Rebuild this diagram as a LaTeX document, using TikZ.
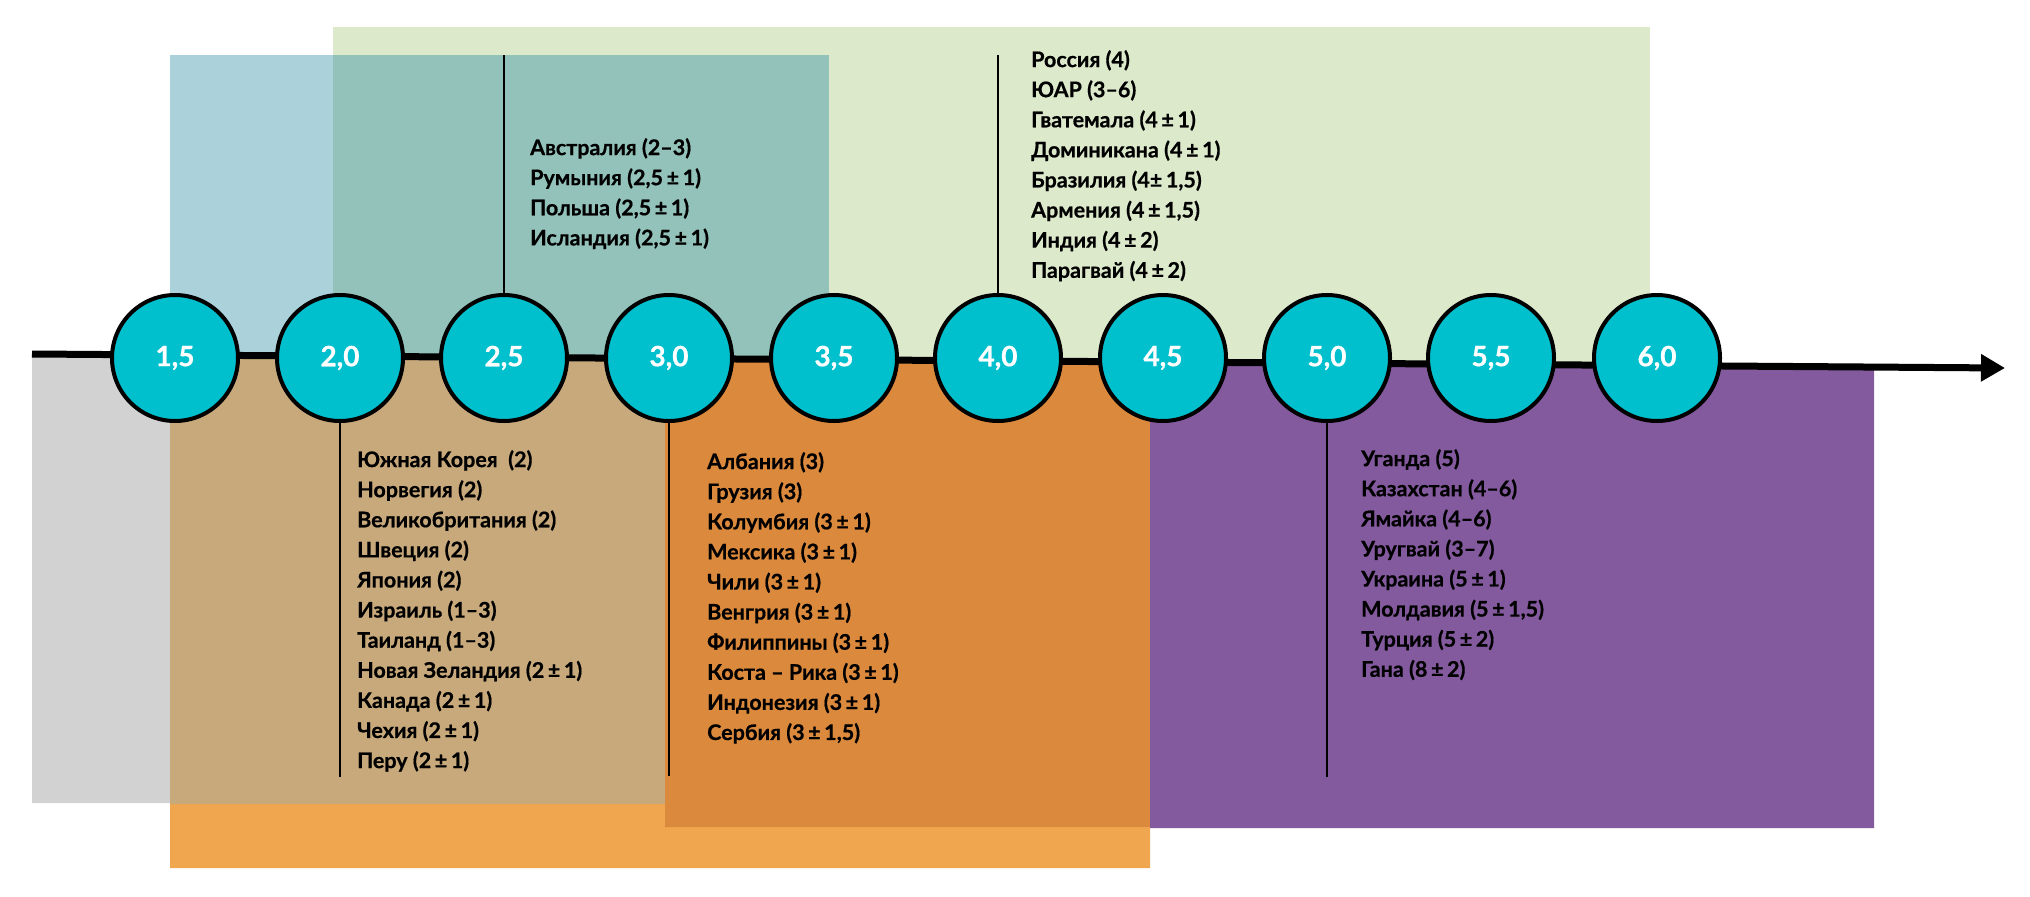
\documentclass[tikz,border=0pt]{standalone}
\usepackage{fontspec}
\setmainfont{Lato}[BoldFeatures={FakeBold=0.6}]
\usetikzlibrary{arrows.meta}
\definecolor{cgreen}{HTML}{DDE9CB}
\definecolor{cblue}{HTML}{ABD1DA}
\definecolor{cteal}{HTML}{92C2B9}
\definecolor{cgray}{HTML}{D2D2D2}
\definecolor{ctan}{HTML}{C8A97B}
\definecolor{clorange}{HTML}{F0A64E}
\definecolor{cdorange}{HTML}{DB893C}
\definecolor{cpurple}{HTML}{845A9E}
\definecolor{ccyan}{HTML}{00C0CE}
\tikzset{
  tick/.style={circle, draw=black, line width=4pt, fill=ccyan, minimum size=126pt, inner sep=0pt,
    text=white, font=\fontsize{28}{30}\selectfont\bfseries},
  stem/.style={draw=black, line width=1.5pt},
  axisline/.style={draw=black, line width=7pt, -{Triangle[length=24pt,width=26pt]}},
  list/.style={anchor=north west, inner sep=0pt, align=left, text=black,
    font=\fontsize{21.5}{30.1}\selectfont\bfseries}
}
\begin{document}
\begin{tikzpicture}[x=1pt,y=-1pt]
\useasboundingbox (0,0) rectangle (2030,897);
% bands above the axis
\fill[cgreen] (333,27) rectangle (1650,370);
\fill[cblue] (170,55) rectangle (333,370);
\fill[cteal] (333,55) rectangle (829,370);
% bands below the axis (tops follow the axis)
\fill[clorange] (170,355) -- (1150,362.2) -- (1150,868) -- (170,868) -- cycle;
\fill[cgray] (32,354) -- (170,355) -- (170,803) -- (32,803) -- cycle;
\fill[ctan] (170,355) -- (666,358.5) -- (666,804) -- (170,804) -- cycle;
\fill[cdorange] (665,358.5) -- (1150,362.2) -- (1150,827) -- (665,827) -- cycle;
\fill[cpurple] (1150,362.2) -- (1874,367.2) -- (1874,828) -- (1150,828) -- cycle;
% axis
\coordinate (ax0) at (32,354);
\coordinate (ax1) at (2005,368);
\draw[axisline] (ax0) -- (ax1);
% ticks
\node[tick] (c15) at (175,358) {1,5};
\node[tick] (c20) at (340,358) {2,0};
\node[tick] (c25) at (504,358) {2,5};
\node[tick] (c30) at (669,358) {3,0};
\node[tick] (c35) at (834,358) {3,5};
\node[tick] (c40) at (998,358) {4,0};
\node[tick] (c45) at (1163,358) {4,5};
\node[tick] (c50) at (1327,358) {5,0};
\node[tick] (c55) at (1491,358) {5,5};
\node[tick] (c60) at (1657,358) {6,0};
% stems
\coordinate (t25) at (504,55);
\coordinate (t40) at (998,55);
\coordinate (b20) at (340,777);
\coordinate (b30) at (669,776);
\coordinate (b50) at (1327,777);
\draw[stem] (c25.north) -- (t25);
\draw[stem] (c40.north) -- (t40);
\draw[stem] (c20.south) -- (b20);
\draw[stem] (c30.south) -- (b30);
\draw[stem] (c50.south) -- (b50);
% lists
\node[list] (lau) at (530,138) {Австралия (2–3)\\Румыния (2,5\,±\,1)\\Польша (2,5\,±\,1)\\Исландия (2,5\,±\,1)};
\node[list] (lru) at (1031,50) {Россия (4)\\ЮАР (3–6)\\Гватемала (4\,±\,1)\\Доминикана (4\,±\,1)\\Бразилия (4±\,1,5)\\Армения (4\,±\,1,5)\\Индия (4\,±\,2)\\Парагвай (4\,±\,2)};
\node[list] (lkr) at (357,450) {Южная Корея\ \ (2)\\Норвегия (2)\\Великобритания (2)\\Швеция (2)\\Япония (2)\\Израиль (1–3)\\Таиланд (1–3)\\Новая Зеландия (2\,±\,1)\\Канада (2\,±\,1)\\Чехия (2\,±\,1)\\Перу (2\,±\,1)};
\node[list] (lal) at (707,452) {Албания (3)\\Грузия (3)\\Колумбия (3\,±\,1)\\Мексика (3\,±\,1)\\Чили (3\,±\,1)\\Венгрия (3\,±\,1)\\Филиппины (3\,±\,1)\\Коста – Рика (3\,±\,1)\\Индонезия (3\,±\,1)\\Сербия (3\,±\,1,5)};
\node[list] (lug) at (1361,449) {Уганда (5)\\Казахстан (4–6)\\Ямайка (4–6)\\Уругвай (3–7)\\Украина (5\,±\,1)\\Молдавия (5\,±\,1,5)\\Турция (5\,±\,2)\\Гана (8\,±\,2)};
\end{tikzpicture}
\end{document}
